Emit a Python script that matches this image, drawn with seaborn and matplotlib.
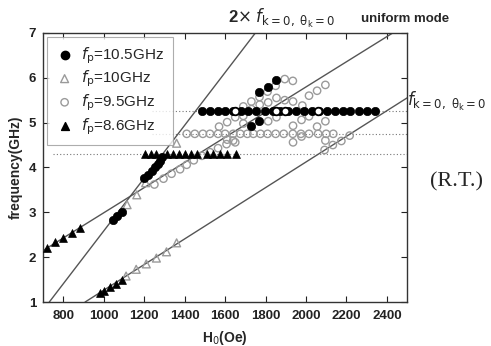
import matplotlib
matplotlib.use("Agg")
import matplotlib.pyplot as plt
import seaborn as sns
import pandas as pd

# ---- data ----
# theory lines (H0 in Oe, frequency in GHz)
line_2f_H = [730, 1750]
line_2f_f = [1.0, 7.0]
line_mid_H = [700, 2430]
line_mid_f = [2.15, 7.0]
line_f0_H = [907, 2500]
line_f0_f = [1.0, 5.55]

# half pumping frequencies (dotted)
half_fp = [5.25, 4.75, 4.3]
half_fp_start = [1240, 1240, 750]

# fp = 10.5 GHz (filled circles)
fp105_H = [1045, 1065, 1090, 1200, 1220, 1240, 1255, 1268, 1280, 1290,
           1485, 1525, 1565, 1600, 1640, 1680, 1715, 1755, 1795, 1835, 1870, 1910,
           1950, 1990, 2030, 2065, 2105, 2145, 2185, 2220, 2260, 2300, 2340,
           1730, 1770, 1770, 1810, 1852]
fp105_f = [2.82, 2.91, 3.0, 3.76, 3.83, 3.92, 4.0, 4.08, 4.15, 4.24,
           5.25, 5.25, 5.25, 5.25, 5.25, 5.25, 5.25, 5.25, 5.25, 5.25, 5.25, 5.25,
           5.25, 5.25, 5.25, 5.25, 5.25, 5.25, 5.25, 5.25, 5.25, 5.25, 5.25,
           4.93, 5.03, 5.68, 5.8, 5.94]
# hollow (black edged) points inside the 5.25 row
fp105_open_H = [1648, 1854, 1895, 2058]
fp105_open_f = [5.25, 5.25, 5.25, 5.25]

# fp = 10 GHz (open triangles)
fp10_H = [1110, 1160, 1210, 1260, 1310, 1360, 1115, 1163, 1207, 1360]
fp10_f = [1.58, 1.73, 1.85, 1.98, 2.12, 2.32, 3.17, 3.39, 3.66, 4.54]

# fp = 9.5 GHz (open circles)
fp95_H = [1250, 1295, 1335, 1377, 1410, 1445, 1485, 1525, 1565, 1607, 1640,
          1410, 1450, 1490, 1525, 1565, 1600, 1640, 1675, 1710, 1740, 1775, 1810,
          1850, 1890, 1935, 1975, 2015, 2060, 2100, 2135,
          1570, 1610, 1650, 1690, 1730, 1770, 1810, 1850, 1895, 1935,
          1690, 1730, 1771, 1813, 1854, 1895, 1936, 1982, 2015, 2055, 2096,
          1690, 1813, 1854, 1936, 1978, 2015, 2055, 2096,
          1610, 1650, 1936, 1978, 2096,
          2092, 2133, 2175, 2216]
fp95_f = [3.62, 3.75, 3.86, 3.96, 4.06, 4.16, 4.26, 4.34, 4.43, 4.52, 4.6,
          4.75, 4.75, 4.75, 4.75, 4.75, 4.75, 4.75, 4.75, 4.75, 4.75, 4.75, 4.75,
          4.75, 4.75, 4.75, 4.75, 4.75, 4.75, 4.75, 4.75,
          4.91, 5.01, 5.12, 5.36, 5.47, 5.57, 5.69, 5.82, 5.97, 5.93,
          5.15, 5.3, 5.4, 5.45, 5.55, 5.5, 5.47, 5.38, 5.6, 5.71, 5.84,
          4.98, 5.03, 5.12, 4.93, 5.06, 5.14, 4.91, 5.03,
          4.62, 4.56, 4.56, 4.69, 4.6,
          4.39, 4.5, 4.59, 4.71]

# fp = 8.6 GHz (filled triangles)
fp86_H = [720, 760, 800, 840, 880,
          980, 1000, 1030, 1060, 1090,
          1204, 1232, 1258, 1314, 1343, 1373, 1401, 1429, 1459, 1508, 1541,
          1574, 1610, 1656]
fp86_f = [2.2, 2.33, 2.43, 2.54, 2.65,
          1.2, 1.25, 1.33, 1.4, 1.5,
          4.3, 4.3, 4.3, 4.3, 4.3, 4.3, 4.3, 4.3, 4.3, 4.3, 4.3,
          4.3, 4.3, 4.3]

x_ticks = [800, 1000, 1200, 1400, 1600, 1800, 2000, 2200, 2400]
y_ticks = [1, 2, 3, 4, 5, 6, 7]

sns.set_style("ticks")
plt.rcParams['font.family'] = ['Liberation Sans', 'DejaVu Sans']
plt.rcParams['mathtext.fontset'] = 'dejavusans'

fig = plt.figure(figsize=(4.91, 3.46), dpi=100)
ax = fig.add_axes([0.088, 0.127, 0.741, 0.778])

line_color = '#555555'
for xs, ys in [(line_2f_H, line_2f_f), (line_mid_H, line_mid_f), (line_f0_H, line_f0_f)]:
    sns.lineplot(x=xs, y=ys, ax=ax, color=line_color, linewidth=1.0, zorder=2)

for lvl, start in zip(half_fp, half_fp_start):
    sns.lineplot(x=[start, 2500], y=[lvl, lvl], ax=ax, color='#777777',
                 linewidth=0.8, linestyle=(0, (1, 2)), zorder=1)

gray = '#9a9a9a'
s_circ, s_open, s_tri = 36, 28, 32
sns.scatterplot(x=fp95_H, y=fp95_f, ax=ax, marker='o', s=s_open, facecolor='none',
                edgecolor=gray, linewidth=1.0, zorder=3)
sns.scatterplot(x=fp10_H, y=fp10_f, ax=ax, marker='^', s=s_tri, facecolor='none',
                edgecolor=gray, linewidth=1.0, zorder=3)
sns.scatterplot(x=fp86_H, y=fp86_f, ax=ax, marker='^', s=s_tri, color='black',
                edgecolor='black', linewidth=0.5, zorder=4)
sns.scatterplot(x=fp105_H, y=fp105_f, ax=ax, marker='o', s=s_circ, color='black',
                edgecolor='black', linewidth=0.5, zorder=4)
sns.scatterplot(x=fp105_open_H, y=fp105_open_f, ax=ax, marker='o', s=30,
                color='white', edgecolor='black', linewidth=1.3, zorder=5)

# legend
h105 = ax.scatter([], [], marker='o', s=s_circ, color='black')
h10 = ax.scatter([], [], marker='^', s=s_tri, facecolor='none', edgecolor=gray)
h95 = ax.scatter([], [], marker='o', s=s_open, facecolor='none', edgecolor=gray)
h86 = ax.scatter([], [], marker='^', s=s_tri, color='black')
leg = ax.legend([h105, h10, h95, h86],
                [r"$f_{\rm p}$=10.5GHz", r"$f_{\rm p}$=10GHz",
                 r"$f_{\rm p}$=9.5GHz", r"$f_{\rm p}$=8.6GHz"],
                loc='upper left', bbox_to_anchor=(0.0, 1.0), borderaxespad=0.25,
                fontsize=11, frameon=True, fancybox=False, edgecolor='#999999',
                handletextpad=0.5, borderpad=0.55, labelspacing=0.2,
                handlelength=1.2)
leg.get_frame().set_linewidth(0.8)
leg.set_zorder(6)

ax.set_xlim(700, 2500)
ax.set_ylim(1, 7)
ax.set_xticks(x_ticks)
ax.set_yticks(y_ticks)
ax.tick_params(direction='in', top=True, right=True, length=4, width=0.8,
               labelsize=9.5, colors='#222222')
ax.tick_params(axis='x', labeltop=False, pad=6)
ax.tick_params(axis='y', labelright=False, pad=5)
for lab in ax.get_xticklabels() + ax.get_yticklabels():
    lab.set_fontweight('bold')
for sp in ax.spines.values():
    sp.set_linewidth(1.0)
    sp.set_color('#333333')

ax.set_xlabel(r"H$_{\rm 0}$(Oe)", fontsize=10, fontweight='bold', labelpad=5)
ax.set_ylabel("frequency(GHz)", fontsize=10, fontweight='bold', labelpad=4)

fig.text(0.464, 0.935, r"2$\times$ $f_{\rm k=0,\ \theta_{\rm k}=0}$", fontsize=12,
         fontweight='bold', ha='left', va='baseline')
fig.text(0.735, 0.935, "uniform mode", fontsize=9.5, fontweight='bold',
         ha='left', va='baseline')
fig.text(0.828, 0.695, r"$f_{\rm k=0,\ \theta_{\rm k}=0}$", fontsize=12,
         ha='left', va='baseline')
fig.text(0.875, 0.474, "(R.T.)", fontsize=16, family=['Liberation Serif'],
         ha='left', va='center')

plt.savefig('out.png', dpi=100)
